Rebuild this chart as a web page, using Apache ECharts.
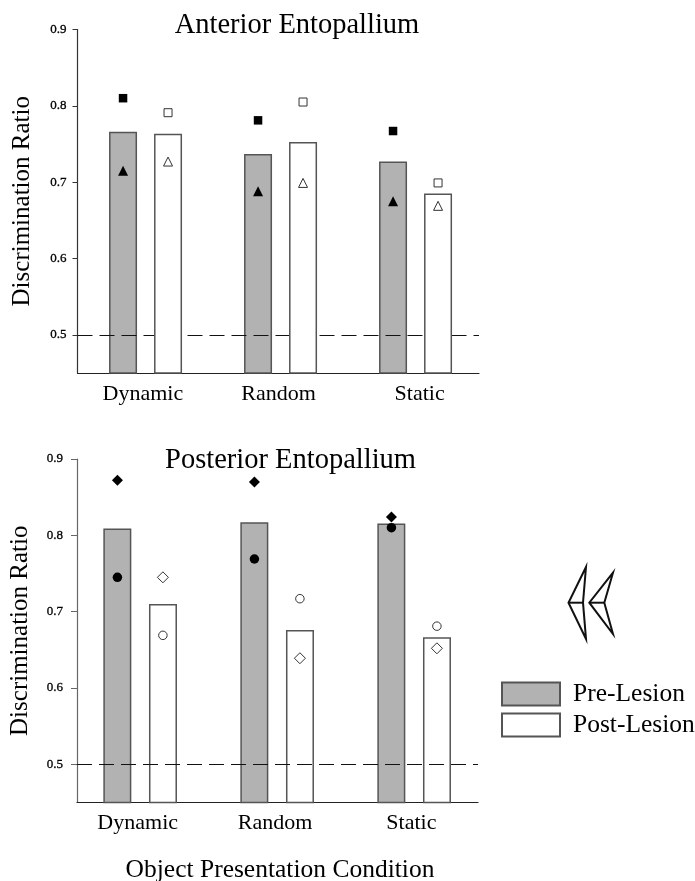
<!DOCTYPE html>
<html><head><meta charset="utf-8">
<style>html,body{margin:0;padding:0;background:#fff}#c{width:695px;height:881px}</style>
<script src="https://cdn.jsdelivr.net/npm/echarts@6/dist/echarts.min.js"></script>
</head><body><div id="c"></div>
<script>
const categories = ['Dynamic', 'Random', 'Static'];
const yTicks = [0.5, 0.6, 0.7, 0.8, 0.9];
const chance = 0.5;

// Anterior Entopallium
const antPre = [0.766, 0.737, 0.727];
const antPost = [0.7635, 0.7525, 0.685];
const antPreSquare = [0.810, 0.781, 0.767];
const antPreTriangle = [0.715, 0.688, 0.675];
const antPostSquare = [0.791, 0.805, 0.699];
const antPostTriangle = [0.727, 0.699, 0.669];

// Posterior Entopallium
const postPre = [0.809, 0.817, 0.8155];
const postPost = [0.710, 0.676, 0.6665];
const postPreDiamond = [0.872, 0.870, 0.824];
const postPreCircle = [0.745, 0.769, 0.810];
const postPostDiamond = [0.745, 0.639, 0.652];
const postPostCircle = [0.669, 0.717, 0.681];

const serif = '"Liberation Serif","Times New Roman",serif';
const edge = '#555';
const grey = '#b2b2b2';
const ink = '#000';

function xy(vals, shift) { return vals.map((v, i) => [i + shift, v]); }

function bar(name, vals, fill, axis, z, gapPct, mark, markZ) {
  const s = {
    name, type: 'bar', xAxisIndex: axis, yAxisIndex: axis,
    barWidth: 28, barGap: gapPct, z,
    data: xy(vals, 0),
    itemStyle: { color: fill, borderColor: edge, borderWidth: 1.5 },
    silent: true
  };
  if (mark) {
    s.markLine = {
      silent: true, symbol: 'none', z: markZ, label: { show: false }, animation: false,
      lineStyle: { color: '#111', type: [15, 7], width: 1 },
      data: [{ yAxis: chance }]
    };
  }
  return s;
}
function dots(name, vals, shift, symbol, filled, axis, size) {
  return {
    name, type: 'scatter', xAxisIndex: axis, yAxisIndex: axis, z: 6, symbol, symbolSize: size,
    data: xy(vals, shift), silent: true,
    itemStyle: filled ? { color: '#000', opacity: 1 }
                      : { color: '#fff', borderColor: '#333', borderWidth: 1, opacity: 1 }
  };
}
function xAxisCfg(grid, min, max, labelValues) {
  return {
    type: 'value', gridIndex: grid, min, max, splitLine: { show: false },
    axisLine: { show: true, onZero: false, lineStyle: { color: '#222', width: 1.2 } },
    axisTick: { show: false },
    axisLabel: {
      customValues: labelValues, margin: 10, fontFamily: serif, fontSize: 22, color: ink,
      showMinLabel: true, showMaxLabel: true,
      formatter: (v, i) => categories[labelValues.indexOf(v)]
    }
  };
}
function yAxisCfg(grid, labelMargin, tickLen, nameGap, lineColor) {
  return {
    type: 'value', gridIndex: grid, min: 0.45, max: 0.9,
    name: 'Discrimination Ratio', nameLocation: 'middle', nameGap,
    nameTextStyle: { fontFamily: serif, fontSize: 25, color: ink },
    splitLine: { show: false },
    axisLine: { show: true, onZero: false, lineStyle: { color: lineColor, width: 1.2 } },
    axisTick: { show: true, length: tickLen, customValues: yTicks, lineStyle: { color: lineColor } },
    axisLabel: {
      customValues: yTicks, margin: labelMargin, fontFamily: serif, fontSize: 13, color: ink,
      textBorderColor: ink, textBorderWidth: 0.3,
      formatter: v => v.toFixed(1)
    }
  };
}

const option = {
  backgroundColor: '#fff',
  animation: false,
  title: [
    { text: 'Anterior Entopallium', left: 292, textAlign: 'center', top: 6,
      textStyle: { fontFamily: serif, fontWeight: 'normal', fontSize: 28.5, color: ink } },
    { text: 'Posterior Entopallium', left: 285.5, textAlign: 'center', top: 441,
      textStyle: { fontFamily: serif, fontWeight: 'normal', fontSize: 28.5, color: ink } },
    { text: 'Object Presentation Condition', left: 275, textAlign: 'center', top: 852,
      textStyle: { fontFamily: serif, fontWeight: 'normal', fontSize: 25.5, color: ink } }
  ],
  grid: [
    { left: 77.5, width: 401.5, top: 29.5, height: 343.5 },
    { left: 77, width: 401, top: 459, height: 343.5 }
  ],
  xAxis: [
    xAxisCfg(0, -0.504, 2.47, [-0.02, 0.985, 2.03]),
    xAxisCfg(1, -0.461, 2.466, [-0.018, 0.985, 1.98])
  ],
  yAxis: [yAxisCfg(0, 11, 5, 43, '#333'), yAxisCfg(1, 14, 6, 44, '#666')],
  legend: {
    left: 501, top: 681, padding: 0, orient: 'vertical', icon: 'rect', itemWidth: 58, itemHeight: 23, itemGap: 5,
    selectedMode: false, data: ['Pre-Lesion', 'Post-Lesion'],
    textStyle: { fontFamily: serif, fontSize: 25.5, lineHeight: 23, color: ink, padding: [0, 0, 0, 8] }
  },
  graphic: [
    { type: 'polygon', silent: true, shape: { points: [[586, 567], [568.5, 602.7], [586, 639], [583, 602.7]] },
      style: { fill: 'none', stroke: '#111', lineWidth: 2 } },
    { type: 'line', silent: true, shape: { x1: 568.5, y1: 602.7, x2: 583, y2: 602.7 },
      style: { stroke: '#111', lineWidth: 2 } },
    { type: 'polygon', silent: true, shape: { points: [[613, 572.7], [589.3, 602.7], [613, 634], [604.3, 602.7]] },
      style: { fill: 'none', stroke: '#111', lineWidth: 2 } },
    { type: 'line', silent: true, shape: { x1: 589.3, y1: 602.7, x2: 604.3, y2: 602.7 },
      style: { stroke: '#111', lineWidth: 2 } }
  ],
  series: [
    bar('Pre-Lesion', antPre, grey, 0, 2, '60.7%', true, 3),
    bar('Post-Lesion', antPost, '#fff', 0, 4, '60.7%'),
    dots('Pre square', antPreSquare, -1 / 6, 'rect', true, 0, 8.5),
    dots('Pre triangle', antPreTriangle, -1 / 6, 'triangle', true, 0, 10),
    dots('Post square', antPostSquare, 1 / 6, 'rect', false, 0, 8),
    dots('Post triangle', antPostTriangle, 1 / 6, 'triangle', false, 0, 9),

    bar('Pre-Lesion', postPre, grey, 1, 2, '63%'),
    bar('Post-Lesion', postPost, '#fff', 1, 2, '63%', true, 5),
    dots('Pre diamond', postPreDiamond, -0.166, 'diamond', true, 1, 11),
    dots('Pre circle', postPreCircle, -0.166, 'circle', true, 1, 9.5),
    dots('Post diamond', postPostDiamond, 0.166, 'diamond', false, 1, 11),
    dots('Post circle', postPostCircle, 0.166, 'circle', false, 1, 8.5)
  ]
};
echarts.init(document.getElementById('c'), null, { renderer: 'canvas' }).setOption(option);
</script></body></html>
